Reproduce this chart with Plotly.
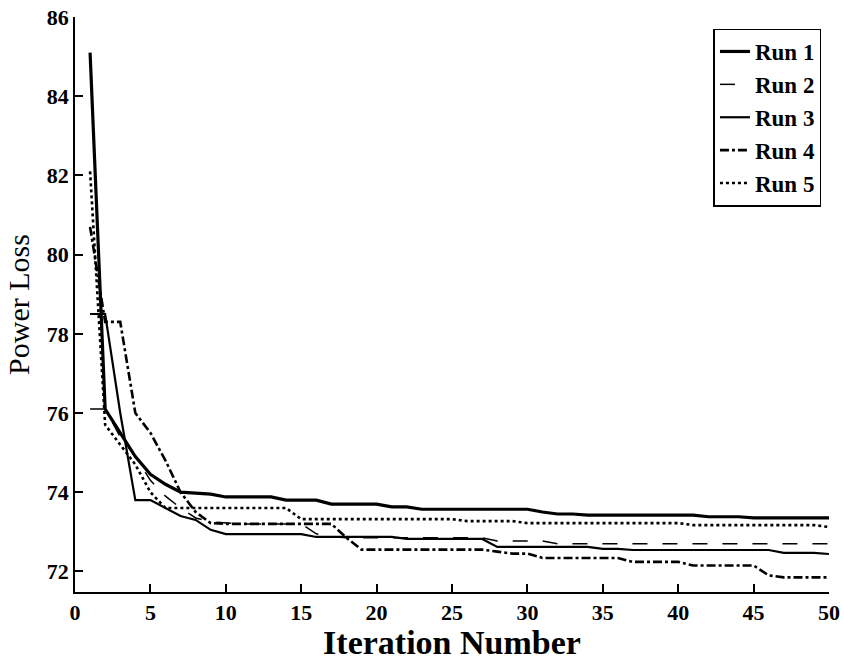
import plotly.graph_objects as go

iterations = list(range(1, 51))

run1 = [85.1, 76.1, 75.5, 74.9, 74.45, 74.2, 74.0, 73.98, 73.95, 73.88,
        73.88, 73.88, 73.88, 73.8, 73.8, 73.8, 73.7, 73.7, 73.7, 73.7,
        73.63, 73.63, 73.57, 73.57, 73.57, 73.57, 73.57, 73.57, 73.57, 73.57,
        73.5, 73.45, 73.45, 73.42, 73.42, 73.42, 73.42, 73.42, 73.42, 73.42,
        73.42, 73.38, 73.38, 73.38, 73.35, 73.35, 73.35, 73.35, 73.35, 73.35]

run2 = [76.1, 76.1, 75.4, 74.9, 74.3, 73.9, 73.6, 73.35, 73.25, 73.22,
        73.2, 73.2, 73.2, 73.2, 73.2, 72.95, 72.88, 72.85, 72.85, 72.85,
        72.85, 72.85, 72.85, 72.85, 72.85, 72.85, 72.85, 72.77, 72.77, 72.77,
        72.77, 72.7, 72.7, 72.7, 72.7, 72.7, 72.7, 72.7, 72.7, 72.7,
        72.7, 72.7, 72.7, 72.7, 72.7, 72.7, 72.7, 72.7, 72.7, 72.7]

run3 = [78.5, 78.5, 76.0, 73.8, 73.8, 73.6, 73.4, 73.3, 73.05, 72.94,
        72.94, 72.94, 72.94, 72.94, 72.94, 72.87, 72.87, 72.87, 72.87, 72.87,
        72.87, 72.82, 72.82, 72.82, 72.82, 72.82, 72.82, 72.62, 72.62, 72.62,
        72.62, 72.62, 72.62, 72.62, 72.57, 72.57, 72.54, 72.54, 72.54, 72.54,
        72.54, 72.54, 72.54, 72.54, 72.54, 72.54, 72.47, 72.47, 72.47, 72.44]

run4 = [80.7, 78.3, 78.3, 76.0, 75.5, 74.8, 74.0, 73.5, 73.22, 73.2,
        73.2, 73.2, 73.2, 73.2, 73.2, 73.2, 73.2, 72.85, 72.55, 72.55,
        72.55, 72.55, 72.55, 72.55, 72.55, 72.55, 72.55, 72.5, 72.45, 72.45,
        72.34, 72.34, 72.34, 72.34, 72.34, 72.34, 72.24, 72.24, 72.24, 72.24,
        72.15, 72.15, 72.15, 72.15, 72.15, 71.9, 71.85, 71.85, 71.85, 71.85]

run5 = [82.1, 75.7, 75.2, 74.7, 74.0, 73.6, 73.6, 73.6, 73.6, 73.6,
        73.6, 73.6, 73.6, 73.6, 73.32, 73.32, 73.32, 73.32, 73.32, 73.32,
        73.32, 73.32, 73.32, 73.32, 73.32, 73.27, 73.27, 73.27, 73.27, 73.22,
        73.22, 73.22, 73.22, 73.22, 73.22, 73.22, 73.22, 73.22, 73.22, 73.22,
        73.17, 73.17, 73.17, 73.17, 73.17, 73.17, 73.17, 73.17, 73.17, 73.12]

series = [
    ("<b>Run 1</b>", run1, "solid", 3.2),
    ("<b>Run 2</b>", run2, "longdash", 1.5),
    ("<b>Run 3</b>", run3, "solid", 2.2),
    ("<b>Run 4</b>", run4, "dashdot", 2.6),
    ("<b>Run 5</b>", run5, "dot", 2.6),
]

fig = go.Figure()
for name, vals, dash, w in series:
    fig.add_trace(go.Scatter(x=iterations, y=vals, mode="lines", name=name,
                             line=dict(color="black", dash=dash, width=w)))

font_family = "Liberation Serif, Times New Roman, serif"
fig.update_layout(
    width=844, height=661,
    margin=dict(l=75, r=15, t=17, b=69),
    plot_bgcolor="white", paper_bgcolor="white",
    showlegend=True,
    legend=dict(x=0.99, y=0.98, xanchor="right", yanchor="top",
                bordercolor="black", borderwidth=1.5, bgcolor="white",
                font=dict(family=font_family, size=23, color="black"),
                tracegroupgap=0, itemwidth=30),
    font=dict(family=font_family, color="black"),
)
fig.update_xaxes(range=[0, 50], tickvals=list(range(0, 51, 5)),
                 ticks="inside", ticklen=8, tickwidth=1.5, tickcolor="black",
                 showline=True, linecolor="black", linewidth=1.5,
                 showgrid=False, zeroline=False, automargin=False,
                 tickfont=dict(family=font_family, size=22, color="black", weight="bold"),
                 title=dict(text="<b>Iteration Number</b>", font=dict(family=font_family, size=34), standoff=2))
fig.update_yaxes(range=[71.48, 86], tickvals=list(range(72, 87, 2)),
                 ticks="inside", ticklen=8, tickwidth=1.5, tickcolor="black",
                 showline=True, linecolor="black", linewidth=1.5,
                 showgrid=False, zeroline=False, automargin=False,
                 tickfont=dict(family=font_family, size=22, color="black", weight="bold"),
                 title=dict(text="Power Loss", font=dict(family=font_family, size=30), standoff=8))

fig.write_html("out.html")
